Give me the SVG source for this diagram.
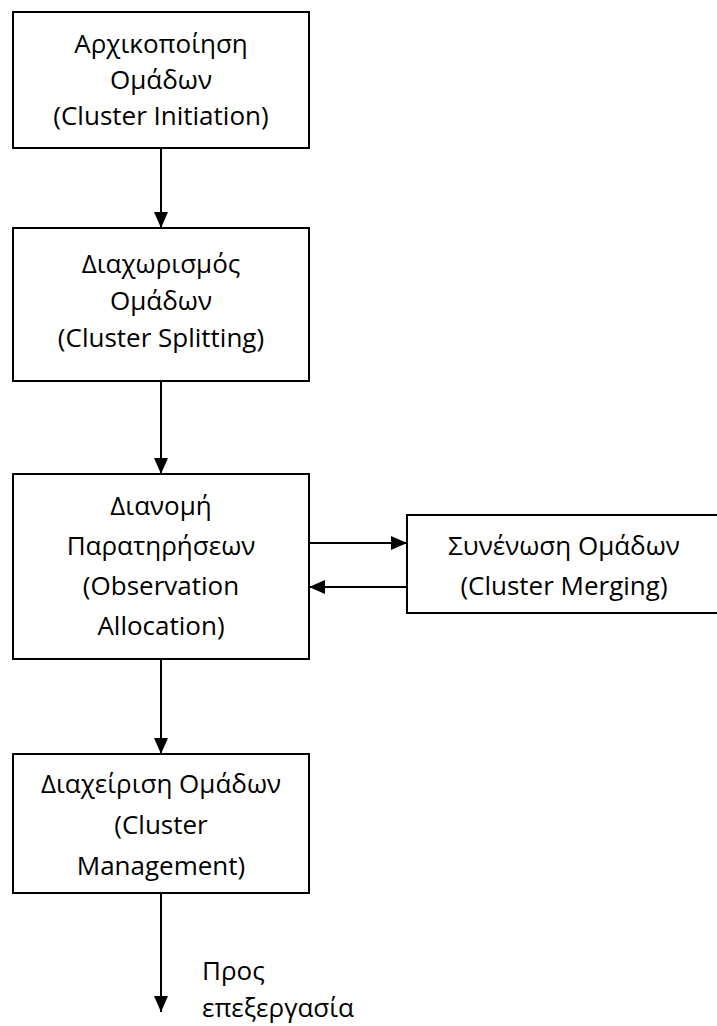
<svg xmlns="http://www.w3.org/2000/svg" width="717" height="1026" viewBox="0 0 717 1026">
  <style>
    .box { fill: #ffffff; stroke: #000000; stroke-width: 2; }
    .lbl { font-family: "Open Sans", "Noto Sans", "DejaVu Sans", sans-serif; font-size: 26px; fill: #000000; text-anchor: middle; }
    .note { font-family: "Open Sans", "Noto Sans", "DejaVu Sans", sans-serif; font-size: 26px; fill: #000000; }
    .edge { stroke: #000000; stroke-width: 2; fill: none; marker-end: url(#head); }
  </style>
  <defs>
    <marker id="head" markerUnits="userSpaceOnUse" markerWidth="16" markerHeight="14" refX="16" refY="7" orient="auto">
      <path d="M0,0 L16,7 L0,14 Z" fill="#000000"/>
    </marker>
  </defs>

  <rect width="717" height="1026" fill="#ffffff"/>

  <g id="connectors">
    <line class="edge" x1="161" y1="148" x2="161" y2="228"/>
    <line class="edge" x1="161" y1="381" x2="161" y2="474"/>
    <line class="edge" x1="309" y1="543" x2="407" y2="543"/>
    <line class="edge" x1="407" y1="587" x2="309" y2="587"/>
    <line class="edge" x1="161" y1="659" x2="161" y2="754"/>
    <line class="edge" x1="161" y1="893" x2="161" y2="1012"/>
  </g>

  <g id="cluster-initiation">
    <rect class="box" x="13" y="12" width="296" height="136"/>
    <text class="lbl" x="161" y="53">Αρχικοποίηση</text>
    <text class="lbl" x="161" y="89">Ομάδων</text>
    <text class="lbl" x="161" y="125">(Cluster Initiation)</text>
  </g>

  <g id="cluster-splitting">
    <rect class="box" x="13" y="228" width="296" height="153"/>
    <text class="lbl" x="161" y="273">Διαχωρισμός</text>
    <text class="lbl" x="161" y="310">Ομάδων</text>
    <text class="lbl" x="161" y="347">(Cluster Splitting)</text>
  </g>

  <g id="observation-allocation">
    <rect class="box" x="13" y="474" width="296" height="185"/>
    <text class="lbl" x="161" y="515">Διανομή</text>
    <text class="lbl" x="161" y="555">Παρατηρήσεων</text>
    <text class="lbl" x="161" y="595">(Observation</text>
    <text class="lbl" x="161" y="635">Allocation)</text>
  </g>

  <g id="cluster-merging">
    <rect class="box" x="407" y="515" width="314" height="98"/>
    <text class="lbl" x="564" y="555">Συνένωση Ομάδων</text>
    <text class="lbl" x="564" y="595">(Cluster Merging)</text>
  </g>

  <g id="cluster-management">
    <rect class="box" x="13" y="754" width="296" height="139"/>
    <text class="lbl" x="161" y="793">Διαχείριση Ομάδων</text>
    <text class="lbl" x="161" y="834">(Cluster</text>
    <text class="lbl" x="161" y="875">Management)</text>
  </g>

  <g id="output-label">
    <text class="note" x="202" y="980">Προς</text>
    <text class="note" x="202" y="1017">επεξεργασία</text>
  </g>
</svg>
